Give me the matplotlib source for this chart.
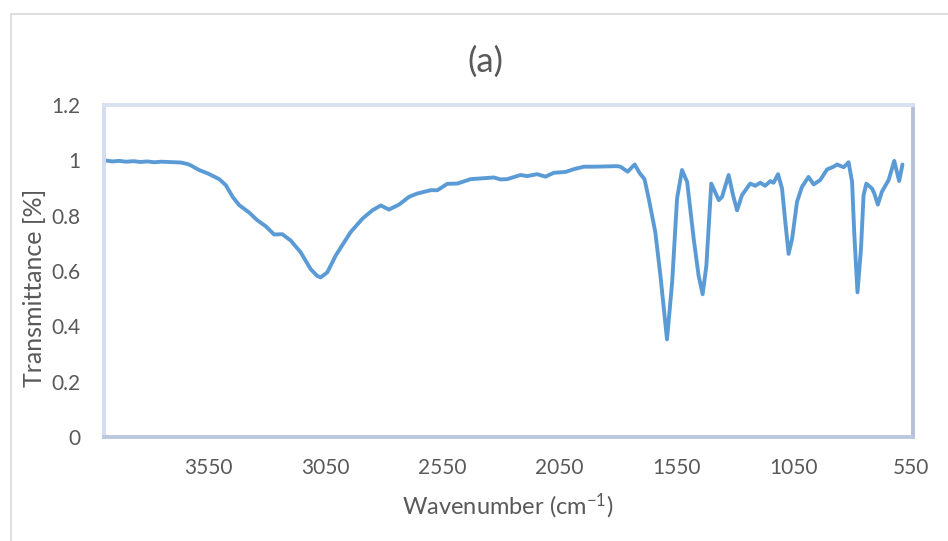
import matplotlib
matplotlib.use("Agg")
import matplotlib.pyplot as plt
from matplotlib.patches import Rectangle

plt.rcParams['font.family'] = ['Lato', 'DejaVu Sans']
plt.rcParams['mathtext.fontset'] = 'custom'
plt.rcParams['mathtext.rm'] = 'Lato'
plt.rcParams['mathtext.it'] = 'Lato:italic'

wavenumber = [3994, 3960, 3930, 3900, 3870, 3840, 3810, 3780, 3750, 3720, 3690, 3667,
              3640, 3625, 3600, 3589, 3553, 3503, 3475, 3446, 3418, 3375, 3340, 3305,
              3269, 3234, 3198, 3156, 3113, 3085, 3070, 3042, 3006, 2942, 2892, 2850,
              2814, 2779, 2736, 2693, 2658, 2601, 2572, 2530, 2487, 2430, 2380, 2331,
              2303, 2274, 2217, 2189, 2146, 2111, 2075, 2025, 1990, 1947, 1904, 1805,
              1791, 1760, 1730, 1708, 1688, 1670, 1642, 1620, 1592, 1570, 1549, 1528,
              1506, 1478, 1457, 1440, 1424, 1403, 1371, 1357, 1329, 1310, 1293, 1272,
              1237, 1215, 1194, 1173, 1151, 1137, 1118, 1101, 1087, 1073, 1058, 1037,
              1016, 988, 966, 938, 909, 881, 866, 838, 817, 802, 793, 779,
              764, 753, 741, 717, 707, 692, 675, 646, 622, 611, 601, 587]
transmittance = [1.000, 0.996, 0.998, 0.995, 0.997, 0.994, 0.996, 0.993, 0.995, 0.994, 0.993, 0.992,
                 0.987, 0.982, 0.970, 0.965, 0.953, 0.932, 0.910, 0.868, 0.838, 0.811, 0.783, 0.762,
                 0.732, 0.733, 0.710, 0.668, 0.607, 0.582, 0.577, 0.595, 0.656, 0.741, 0.789, 0.819,
                 0.837, 0.822, 0.840, 0.868, 0.880, 0.892, 0.892, 0.915, 0.916, 0.932, 0.935, 0.938,
                 0.931, 0.932, 0.947, 0.943, 0.950, 0.941, 0.955, 0.958, 0.968, 0.977, 0.977, 0.979,
                 0.977, 0.959, 0.985, 0.953, 0.932, 0.862, 0.741, 0.583, 0.353, 0.559, 0.862, 0.965,
                 0.922, 0.716, 0.583, 0.516, 0.619, 0.916, 0.856, 0.868, 0.947, 0.874, 0.819, 0.874,
                 0.916, 0.908, 0.919, 0.908, 0.925, 0.919, 0.950, 0.898, 0.777, 0.662, 0.716, 0.850,
                 0.904, 0.940, 0.913, 0.929, 0.967, 0.977, 0.985, 0.975, 0.993, 0.922, 0.741, 0.523,
                 0.680, 0.874, 0.916, 0.898, 0.880, 0.840, 0.886, 0.929, 0.998, 0.959, 0.925, 0.985]

x_ticks = [3550, 3050, 2550, 2050, 1550, 1050, 550]
y_ticks = [0, 0.2, 0.4, 0.6, 0.8, 1.0, 1.2]
y_tick_labels = ["0", "0.2", "0.4", "0.6", "0.8", "1", "1.2"]

title = "(a)"
xlabel = "Wavenumber (cm$^{\\mathregular{-1}}$)"
ylabel = "Transmittance [%]"

W, H = 948, 541
fig = plt.figure(figsize=(W / 100, H / 100), dpi=100)
fig.patch.set_facecolor('white')

# outer chart border
fig.patches.append(Rectangle((11 / W, -0.05), 1.2, 1 - 14 / H + 0.05, transform=fig.transFigure,
                             fill=False, edgecolor='#D9D9D9', linewidth=1.2))

ax = fig.add_axes([104 / W, 1 - 437 / H, (913 - 104) / W, (437 - 105) / H])
ax.plot(wavenumber, transmittance, color='#5B9BD5', linewidth=2.8,
        solid_joinstyle='round', solid_capstyle='round')

ax.set_xlim(3995, 542)
ax.set_ylim(0, 1.2)
ax.set_xticks(x_ticks)
ax.set_xticklabels([str(v) for v in x_ticks])
ax.set_yticks(y_ticks)
ax.set_yticklabels(y_tick_labels)
ax.tick_params(axis='both', length=0, labelsize=15, colors='#595959')
ax.tick_params(axis='y', pad=17)
ax.tick_params(axis='x', pad=15)

spine_cols = {'left': '#D3DDF0', 'top': '#D8E1F1', 'bottom': '#BAC7DE', 'right': '#B6C1D8'}
for side, col in spine_cols.items():
    ax.spines[side].set_color(col)
    ax.spines[side].set_linewidth(2.8)

fig.text(485 / W, 1 - 62 / H, title, fontsize=25, color='#595959', ha='center', va='center')
fig.text(508 / W, 1 - 506 / H, xlabel, fontsize=17, color='#595959', ha='center', va='center')
fig.text(35 / W, 1 - 288 / H, ylabel, fontsize=18, color='#595959', ha='center', va='center',
         rotation=90)

fig.savefig('out.png', dpi=100)
